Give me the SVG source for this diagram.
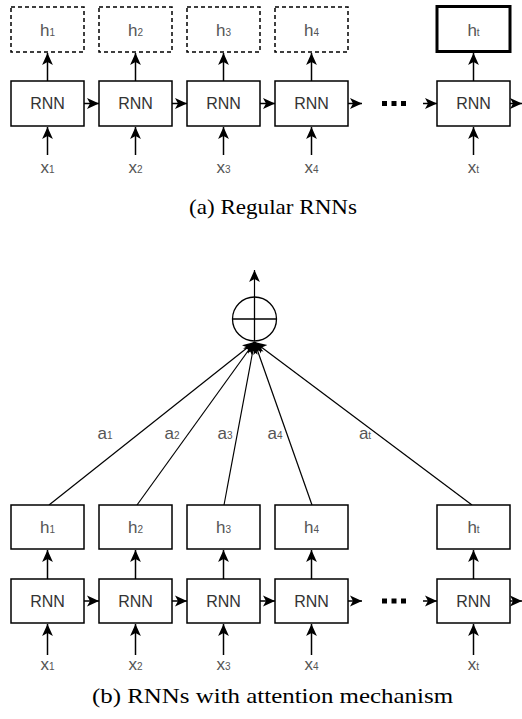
<svg xmlns="http://www.w3.org/2000/svg" width="522" height="719" viewBox="0 0 522 719">
<style>
.box{fill:#fff;stroke:#000;stroke-width:1.5}
.dash{fill:#fff;stroke:#000;stroke-width:1.5;stroke-dasharray:4 3}
.thick{fill:#fff;stroke:#000;stroke-width:3}
.lbl{font-family:"Liberation Sans",Arial,sans-serif;font-size:16px;fill:#333;text-anchor:middle}
.v{font-family:"Liberation Sans",Arial,sans-serif;font-size:17px;fill:#555;text-anchor:middle}
.sub{font-size:10px}
.cap{font-family:"Liberation Serif","Times New Roman",serif;font-size:21px;fill:#000;text-anchor:middle}
.e{stroke:#000;stroke-width:1.5;fill:none;marker-end:url(#ah)}
.t{stroke:#000;stroke-width:1.2;fill:none;marker-end:url(#ah)}
</style>
<defs>
<marker id="ah" markerUnits="userSpaceOnUse" markerWidth="12" markerHeight="12" viewBox="0 0 10 10" refX="10" refY="5" orient="auto">
<path d="M0,0.5 L10,5 L0,9.5 L2.5,5 z" fill="#000"/>
</marker>
</defs>

<g id="connectors">
<line class="e" x1="47.5" y1="81" x2="47.5" y2="53"/>
<line class="e" x1="135.5" y1="81" x2="135.5" y2="53"/>
<line class="e" x1="223.5" y1="81" x2="223.5" y2="53"/>
<line class="e" x1="311.5" y1="81" x2="311.5" y2="53"/>
<line class="e" x1="473.5" y1="81" x2="473.5" y2="53"/>
<line class="e" x1="47.5" y1="155" x2="47.5" y2="127"/>
<line class="e" x1="135.5" y1="155" x2="135.5" y2="127"/>
<line class="e" x1="223.5" y1="155" x2="223.5" y2="127"/>
<line class="e" x1="311.5" y1="155" x2="311.5" y2="127"/>
<line class="e" x1="473.5" y1="155" x2="473.5" y2="127"/>
<line class="e" x1="84" y1="103.5" x2="99" y2="103.5"/>
<line class="e" x1="172" y1="103.5" x2="187" y2="103.5"/>
<line class="e" x1="260" y1="103.5" x2="275" y2="103.5"/>
<line class="e" x1="348" y1="103.5" x2="362" y2="103.5"/>
<line class="e" x1="423" y1="103.5" x2="437" y2="103.5"/>
<line class="e" x1="510" y1="103.5" x2="522" y2="103.5"/>

<line class="e" x1="47.5" y1="579" x2="47.5" y2="550"/>
<line class="e" x1="135.5" y1="579" x2="135.5" y2="550"/>
<line class="e" x1="223.5" y1="579" x2="223.5" y2="550"/>
<line class="e" x1="311.5" y1="579" x2="311.5" y2="550"/>
<line class="e" x1="473.5" y1="579" x2="473.5" y2="550"/>
<line class="e" x1="47.5" y1="655" x2="47.5" y2="624"/>
<line class="e" x1="135.5" y1="655" x2="135.5" y2="624"/>
<line class="e" x1="223.5" y1="655" x2="223.5" y2="624"/>
<line class="e" x1="311.5" y1="655" x2="311.5" y2="624"/>
<line class="e" x1="473.5" y1="655" x2="473.5" y2="624"/>
<line class="e" x1="84" y1="601" x2="99" y2="601"/>
<line class="e" x1="172" y1="601" x2="187" y2="601"/>
<line class="e" x1="260" y1="601" x2="275" y2="601"/>
<line class="e" x1="348" y1="601" x2="362" y2="601"/>
<line class="e" x1="423" y1="601" x2="437" y2="601"/>
<line class="e" x1="510" y1="601" x2="522" y2="601"/>

<line class="t" x1="49" y1="505" x2="254.5" y2="342"/>
<line class="t" x1="137" y1="505" x2="254.5" y2="342"/>
<line class="t" x1="224" y1="505" x2="254.5" y2="342"/>
<line class="t" x1="312" y1="505" x2="254.5" y2="342"/>
<line class="t" x1="472" y1="505" x2="254.5" y2="342"/>
<line class="t" x1="254.5" y1="341" x2="254.5" y2="270"/>
</g>

<g id="h1a"><rect class="dash" x="11" y="7" width="73" height="45"/><text class="v" x="47.5" y="36">h<tspan class="sub">1</tspan></text></g>
<g id="h2a"><rect class="dash" x="99" y="7" width="73" height="45"/><text class="v" x="135.5" y="36">h<tspan class="sub">2</tspan></text></g>
<g id="h3a"><rect class="dash" x="187" y="7" width="73" height="45"/><text class="v" x="223.5" y="36">h<tspan class="sub">3</tspan></text></g>
<g id="h4a"><rect class="dash" x="275" y="7" width="73" height="45"/><text class="v" x="311.5" y="36">h<tspan class="sub">4</tspan></text></g>
<g id="hta"><rect class="thick" x="437" y="6.5" width="73" height="45"/><text class="v" x="473.5" y="36">h<tspan class="sub">t</tspan></text></g>

<g id="rnn1a"><rect class="box" x="11" y="81" width="73" height="45"/><text class="lbl" x="47.5" y="109">RNN</text></g>
<g id="rnn2a"><rect class="box" x="99" y="81" width="73" height="45"/><text class="lbl" x="135.5" y="109">RNN</text></g>
<g id="rnn3a"><rect class="box" x="187" y="81" width="73" height="45"/><text class="lbl" x="223.5" y="109">RNN</text></g>
<g id="rnn4a"><rect class="box" x="275" y="81" width="73" height="45"/><text class="lbl" x="311.5" y="109">RNN</text></g>
<g id="rnnta"><rect class="box" x="437" y="81" width="73" height="45"/><text class="lbl" x="473.5" y="109">RNN</text></g>
<g id="dotsa"><rect x="382" y="101" width="5" height="5"/><rect x="391.5" y="101" width="5" height="5"/><rect x="401" y="101" width="5" height="5"/></g>

<g id="x1a"><text class="v" x="47.5" y="173">x<tspan class="sub">1</tspan></text></g>
<g id="x2a"><text class="v" x="135.5" y="173">x<tspan class="sub">2</tspan></text></g>
<g id="x3a"><text class="v" x="223.5" y="173">x<tspan class="sub">3</tspan></text></g>
<g id="x4a"><text class="v" x="311.5" y="173">x<tspan class="sub">4</tspan></text></g>
<g id="xta"><text class="v" x="473.5" y="173">x<tspan class="sub">t</tspan></text></g>

<text class="cap" x="273" y="214" textLength="168" lengthAdjust="spacingAndGlyphs">(a) Regular RNNs</text>

<g id="sum"><circle cx="254.5" cy="319" r="22" fill="#fff" stroke="#000" stroke-width="1.3"/><line x1="232.5" y1="319" x2="276.5" y2="319" stroke="#000" stroke-width="1.3"/><line x1="254.5" y1="297" x2="254.5" y2="341" stroke="#000" stroke-width="1.3"/></g>

<g id="alabels">
<text class="v" x="105" y="439">a<tspan class="sub">1</tspan></text>
<text class="v" x="172" y="439">a<tspan class="sub">2</tspan></text>
<text class="v" x="225" y="439">a<tspan class="sub">3</tspan></text>
<text class="v" x="275" y="439">a<tspan class="sub">4</tspan></text>
<text class="v" x="365" y="439">a<tspan class="sub">t</tspan></text>
</g>

<g id="h1b"><rect class="box" x="11" y="505" width="73" height="44"/><text class="v" x="47.5" y="533">h<tspan class="sub">1</tspan></text></g>
<g id="h2b"><rect class="box" x="99" y="505" width="73" height="44"/><text class="v" x="135.5" y="533">h<tspan class="sub">2</tspan></text></g>
<g id="h3b"><rect class="box" x="187" y="505" width="73" height="44"/><text class="v" x="223.5" y="533">h<tspan class="sub">3</tspan></text></g>
<g id="h4b"><rect class="box" x="275" y="505" width="73" height="44"/><text class="v" x="311.5" y="533">h<tspan class="sub">4</tspan></text></g>
<g id="htb"><rect class="box" x="437" y="505" width="73" height="44"/><text class="v" x="473.5" y="533">h<tspan class="sub">t</tspan></text></g>

<g id="rnn1b"><rect class="box" x="11" y="579" width="73" height="44"/><text class="lbl" x="47.5" y="607">RNN</text></g>
<g id="rnn2b"><rect class="box" x="99" y="579" width="73" height="44"/><text class="lbl" x="135.5" y="607">RNN</text></g>
<g id="rnn3b"><rect class="box" x="187" y="579" width="73" height="44"/><text class="lbl" x="223.5" y="607">RNN</text></g>
<g id="rnn4b"><rect class="box" x="275" y="579" width="73" height="44"/><text class="lbl" x="311.5" y="607">RNN</text></g>
<g id="rnntb"><rect class="box" x="437" y="579" width="73" height="44"/><text class="lbl" x="473.5" y="607">RNN</text></g>
<g id="dotsb"><rect x="382" y="598.5" width="5" height="5"/><rect x="391.5" y="598.5" width="5" height="5"/><rect x="401" y="598.5" width="5" height="5"/></g>

<g id="x1b"><text class="v" x="47.5" y="670">x<tspan class="sub">1</tspan></text></g>
<g id="x2b"><text class="v" x="135.5" y="670">x<tspan class="sub">2</tspan></text></g>
<g id="x3b"><text class="v" x="223.5" y="670">x<tspan class="sub">3</tspan></text></g>
<g id="x4b"><text class="v" x="311.5" y="670">x<tspan class="sub">4</tspan></text></g>
<g id="xtb"><text class="v" x="473.5" y="670">x<tspan class="sub">t</tspan></text></g>

<text class="cap" x="272.5" y="703" textLength="361" lengthAdjust="spacingAndGlyphs">(b) RNNs with attention mechanism</text>
</svg>
